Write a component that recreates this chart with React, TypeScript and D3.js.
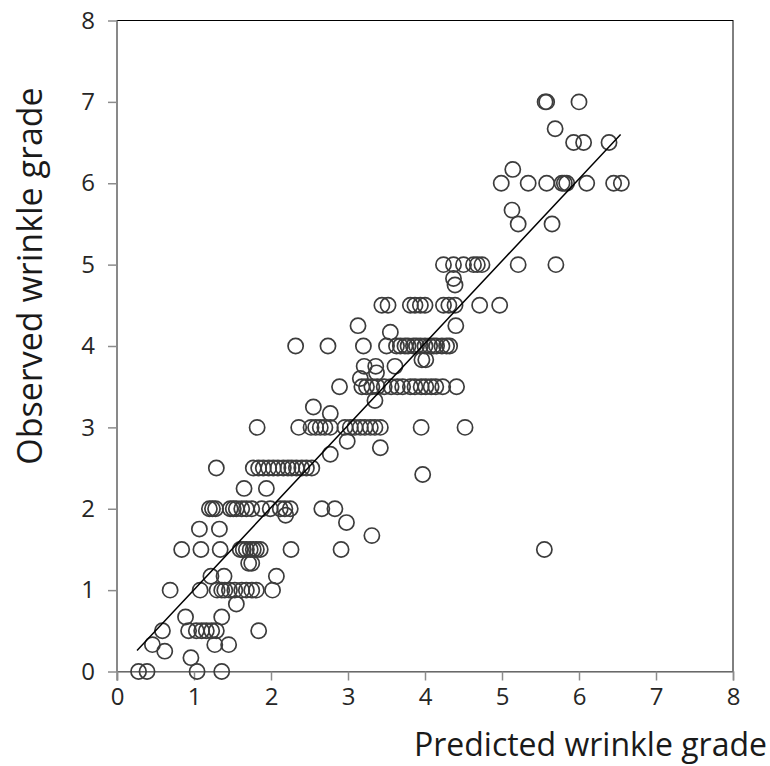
import React, { useRef, useEffect } from 'react';
import * as d3 from 'd3';

// observed grade levels and the predicted values found at each level
const observedGrades = [
    0, 0.17, 0.25, 0.33, 0.5, 0.67, 0.83, 1, 1.17, 1.33, 1.5, 1.67, 1.75, 1.83, 1.92,
    2, 2.25, 2.42, 2.5, 2.67, 2.75, 2.83, 3, 3.17, 3.25, 3.33, 3.5, 3.6, 3.67, 3.75,
    3.83, 4, 4.17, 4.25, 4.5, 4.75, 4.83, 5, 5.5, 5.67, 6, 6.17, 6.5, 6.67, 7
];
const predictedByGrade = [
    [0.28, 0.39, 1.04, 1.36],
    [0.96],
    [0.62],
    [0.46, 1.27, 1.45],
    [0.59, 0.93, 1.03, 1.10, 1.16, 1.23, 1.29, 1.84],
    [0.89, 1.36],
    [1.55],
    [0.69, 1.08, 1.30, 1.36, 1.40, 1.46, 1.53, 1.62, 1.68, 1.75, 1.81, 2.02],
    [1.22, 1.39, 2.07],
    [1.71, 1.75],
    [0.84, 1.09, 1.34, 1.60, 1.64, 1.68, 1.73, 1.77, 1.81, 1.86, 2.26, 2.91, 5.55],
    [3.31],
    [1.07, 1.33],
    [2.98],
    [2.19],
    [1.20, 1.24, 1.28, 1.47, 1.51, 1.55, 1.62, 1.68, 1.75, 1.88, 1.99, 2.12, 2.18, 2.25, 2.66, 2.83],
    [1.65, 1.94],
    [3.97],
    [1.29, 1.77, 1.84, 1.90, 1.97, 2.03, 2.09, 2.16, 2.22, 2.27, 2.33, 2.40, 2.46, 2.53],
    [2.77],
    [3.42],
    [2.99],
    [1.82, 2.36, 2.52, 2.58, 2.64, 2.70, 2.77, 2.96, 3.03, 3.09, 3.16, 3.22, 3.29, 3.35, 3.42, 3.95, 4.52],
    [2.77],
    [2.55],
    [3.35],
    [2.89, 3.18, 3.24, 3.31, 3.38, 3.47, 3.56, 3.64, 3.71, 3.81, 3.87, 3.95, 4.01, 4.08, 4.14, 4.23, 4.41],
    [3.16],
    [3.37],
    [3.21, 3.36, 3.61],
    [3.96, 4.01],
    [2.32, 2.74, 3.20, 3.50, 3.63, 3.68, 3.74, 3.78, 3.85, 3.89, 3.94, 4.00, 4.06, 4.11, 4.15, 4.22, 4.28, 4.32],
    [3.55],
    [3.13, 4.40],
    [3.44, 3.52, 3.81, 3.87, 3.94, 4.00, 4.24, 4.31, 4.39, 4.71, 4.97],
    [4.39],
    [4.37],
    [4.24, 4.37, 4.50, 4.63, 4.68, 4.74, 5.21, 5.70],
    [5.21, 5.65],
    [5.13],
    [4.99, 5.34, 5.58, 5.78, 5.81, 5.84, 6.10, 6.45, 6.55],
    [5.14],
    [5.93, 6.06, 6.39],
    [5.69],
    [5.56, 5.58, 6.00]
];

const axisTicks = [0, 1, 2, 3, 4, 5, 6, 7, 8];

// linear fit drawn through the points
const fitRange = [0.26, 6.54];
const fitSlope = 1.01;
const fitIntercept = -0.005;

const ScatterChart = () => {
    const ref = useRef(null);

    useEffect(() => {
        // no page margin or scrollbars, the svg fills the window
        document.body.style.margin = '0';
        document.body.style.overflow = 'hidden';

        const svg = d3.select(ref.current);
        svg.selectAll('*').remove();

        const margin = { top: 20.5, left: 117, right: 733, bottom: 671.5 };
        const font = '"Open Sans", "Noto Sans", sans-serif';

        const x = d3.scaleLinear().domain([0, 8]).range([margin.left, margin.right]);
        const y = d3.scaleLinear().domain([0, 8]).range([margin.bottom, margin.top]);

        // plot frame
        svg.append('rect')
            .attr('x', margin.left)
            .attr('y', margin.top)
            .attr('width', margin.right - margin.left)
            .attr('height', margin.bottom - margin.top)
            .attr('fill', 'none')
            .attr('stroke', '#000')
            .attr('stroke-width', 1);

        const xAxis = svg.append('g')
            .attr('transform', 'translate(0,' + margin.bottom + ')')
            .call(d3.axisBottom(x).tickValues(axisTicks).tickSize(9).tickPadding(7).tickFormat(d3.format('d')));
        const yAxis = svg.append('g')
            .attr('transform', 'translate(' + margin.left + ',0)')
            .call(d3.axisLeft(y).tickValues(axisTicks).tickSize(9).tickPadding(13).tickFormat(d3.format('d')));

        [xAxis, yAxis].forEach(a => {
            a.select('.domain').attr('stroke', '#8c8c8c').attr('stroke-width', 1.5);
            a.selectAll('.tick line').attr('stroke', '#8c8c8c').attr('stroke-width', 1.5);
            a.selectAll('.tick text')
                .attr('fill', '#262626')
                .style('font-family', font)
                .style('font-size', '24px');
        });
        // the y axis line runs a bit below zero, meeting the x tick
        yAxis.select('.domain').attr('d', 'M0,' + (margin.top) + 'V' + (margin.bottom + 9));

        // points
        const points = observedGrades.flatMap((g, i) => predictedByGrade[i].map(p => ({ p, g })));
        svg.append('g')
            .selectAll('circle')
            .data(points)
            .enter().append('circle')
            .attr('cx', d => x(d.p))
            .attr('cy', d => y(d.g))
            .attr('r', 7.6)
            .attr('fill', 'none')
            .attr('stroke', '#3c3c3c')
            .attr('stroke-width', 1.7);

        // fit line
        const line = d3.line().x(d => x(d)).y(d => y(fitSlope * d + fitIntercept));
        svg.append('path')
            .attr('d', line(fitRange))
            .attr('fill', 'none')
            .attr('stroke', '#000')
            .attr('stroke-width', 1.5);

        // axis titles
        svg.append('text')
            .attr('x', 767)
            .attr('y', 756)
            .attr('text-anchor', 'end')
            .attr('fill', '#1a1a1a')
            .style('font-family', font)
            .style('font-size', '32px')
            .text('Predicted wrinkle grade');

        svg.append('text')
            .attr('transform', 'translate(42,276) rotate(-90)')
            .attr('text-anchor', 'middle')
            .attr('fill', '#1a1a1a')
            .style('font-family', font)
            .style('font-size', '34px')
            .text('Observed wrinkle grade');
    }, []);

    return <svg ref={ref} width={770} height={766} style={{ display: 'block' }}></svg>;
};

export default function App() {
    return <ScatterChart />;
}
